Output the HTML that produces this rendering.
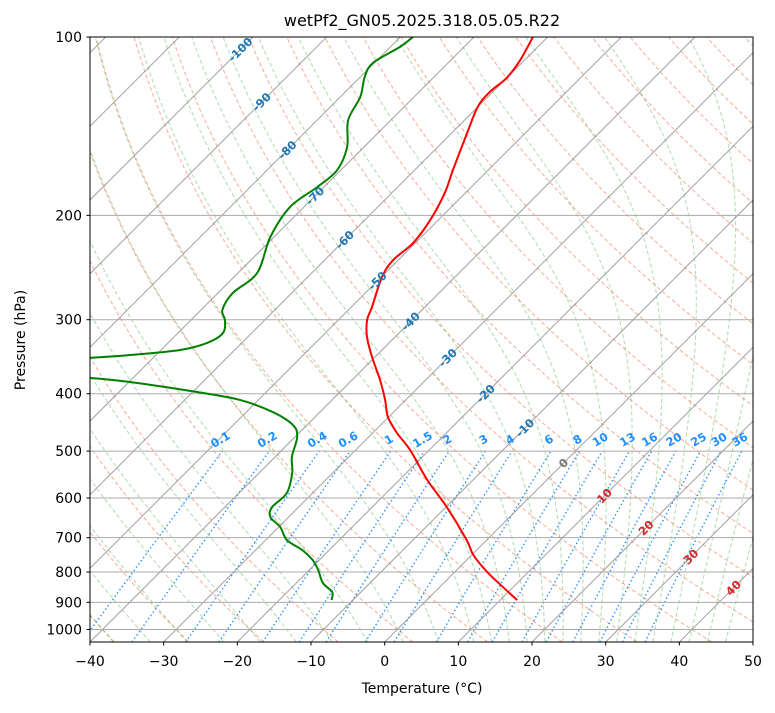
<!DOCTYPE html>
<html><head><meta charset="utf-8"><style>
html,body{margin:0;padding:0;background:#fff;}
svg text{font-family:"DejaVu Sans","Liberation Sans",sans-serif;}
</style></head><body>
<svg id="chart" width="775" height="708" viewBox="0 0 775 708" xmlns="http://www.w3.org/2000/svg">
<defs><clipPath id="plotclip"><rect x="90" y="37" width="663" height="605"/></clipPath></defs>
<rect x="0" y="0" width="775" height="708" fill="#fff"/>
<text x="422" y="26" text-anchor="middle" font-size="16" fill="#000">wetPf2_GN05.2025.318.05.05.R22</text>
<g id="plot" clip-path="url(#plotclip)"></g>
<g id="labels"></g>
<rect x="90" y="37" width="663" height="605" fill="none" stroke="#000" stroke-width="1"/>
<g id="axes"></g>
<text x="422" y="693" text-anchor="middle" font-size="14" fill="#000">Temperature (°C)</text>
<text x="25" y="340" text-anchor="middle" font-size="14" fill="#000" transform="rotate(-90 25 340)">Pressure (hPa)</text>
</svg>
<script>
// ---- data ----
const tempP = [100.0,109.3,117.3,123.8,131.2,145.2,167.7,183.3,203.6,222.6,237.9,254.2,285.5,300.3,320.9,346.8,379.2,409.8,437.9,466.0,497.9,559.4,621.3,706.6,748.4,799.7,848.1,892.1];
const tempT = [-62.0,-60.6,-60.0,-60.4,-60.0,-57.9,-54.8,-52.8,-51.1,-50.3,-50.7,-49.9,-47.2,-46.1,-43.8,-40.4,-36.2,-32.8,-30.1,-26.7,-22.6,-16.2,-9.9,-2.7,0.2,4.4,8.6,12.3];
const dewP = [100.0,103.9,110.6,116.8,126.2,138.1,153.3,167.7,179.1,193.6,217.5,250.2,270.5,288.9,300.3,315.9,328.4,337.5,344.2,348.1,353.5,362.0,371.9,376.3,382.2,397.4,409.8,429.6,451.8,473.4,511.7,544.3,588.6,621.3,645.8,671.4,706.6,734.3,763.6,793.7,834.7,864.9,892.1];
const dewT = [-78.3,-78.7,-80.2,-79.4,-77.3,-75.8,-72.3,-70.5,-70.9,-71.9,-70.5,-67.4,-68.0,-67.1,-65.4,-63.9,-64.7,-67.4,-73.5,-78.6,-84.8,-95.0,-83.0,-75.8,-69.9,-59.4,-52.5,-46.4,-41.9,-39.7,-37.7,-35.5,-33.5,-33.6,-32.5,-29.8,-27.1,-23.7,-20.9,-18.8,-16.4,-13.9,-12.9];
const pressureTicks = [100,200,300,400,500,600,700,800,900,1000];
const tempTicks = [-40,-30,-20,-10,0,10,20,30,40,50];
const mixingRatios = [0.1,0.2,0.4,0.6,1,1.5,2,3,4,6,8,10,13,16,20,25,30,36];
const mixingLabels = ["0.1","0.2","0.4","0.6","1","1.5","2","3","4","6","8","10","13","16","20","25","30","36"];
const isoLabelT = [-100,-90,-80,-70,-60,-50,-40,-30,-20,-10,0,10,20,30,40];
const isoLabelP = [105,128.7,155.1,185.5,220,258,302,348,400,457,524,595,674,754,851];

// ---- axis functions ----
const NS="http://www.w3.org/2000/svg";
function py(p){return 642-592.4*Math.log10(1050/p);}
function tx(T,p){return 90+(T+40)*7.3667+(642-py(p));}
function mk(tag,attrs,parent){const e=document.createElementNS(NS,tag);for(const k in attrs)e.setAttribute(k,attrs[k]);parent.appendChild(e);return e;}
function pathFrom(Ts,Ps){let d="";for(let i=0;i<Ts.length;i++){d+=(i?"L":"M")+tx(Ts[i],Ps[i]).toFixed(2)+","+py(Ps[i]).toFixed(2);}return d;}
function smoothFrom(Ts,Ps){
  const pts=Ts.map((t,i)=>[tx(t,Ps[i]),py(Ps[i])]);
  let d="M"+pts[0][0].toFixed(2)+","+pts[0][1].toFixed(2);
  for(let i=0;i<pts.length-1;i++){
    const p0=pts[Math.max(i-1,0)],p1=pts[i],p2=pts[i+1],p3=pts[Math.min(i+2,pts.length-1)];
    const c1=[p1[0]+(p2[0]-p0[0])/6,p1[1]+(p2[1]-p0[1])/6],c2=[p2[0]-(p3[0]-p1[0])/6,p2[1]-(p3[1]-p1[1])/6];
    d+="C"+c1[0].toFixed(2)+","+c1[1].toFixed(2)+" "+c2[0].toFixed(2)+","+c2[1].toFixed(2)+" "+p2[0].toFixed(2)+","+p2[1].toFixed(2);
  }
  return d;
}
const plot=document.getElementById("plot"),labels=document.getElementById("labels"),axes=document.getElementById("axes");
const pgrid=[];for(let p=1050;p>=100;p-=5)pgrid.push(p);

// dry adiabats
for(let t0=-40;t0<200;t0+=10){
  const Ts=pgrid.map(p=>(t0+273.15)*Math.pow(p/1000,0.2857)-273.15);
  const e=mk("path",{d:pathFrom(Ts,pgrid),fill:"none",stroke:"#f4805f","stroke-opacity":"0.6","stroke-width":"1.1","stroke-dasharray":"4,2.5"},plot);
  
  
}
// moist adiabats
function es(T){return 6.112*Math.exp(17.67*T/(T+243.5));}
function dTdp(p,TC){const T=TC+273.15;const e=es(TC);const rs=0.622*e/Math.max(p-e,1e-3);return (287.04*T+2.501e6*rs)/(p*(1005.7+2.501e6*2.501e6*rs*0.622/(287.04*T*T)));}
function moist(t0){
  const res={};let T=t0;res[1000]=T;
  for(let p=1000;p>100;p-=5){const h=-5;const k1=dTdp(p,T),k2=dTdp(p+h/2,T+h/2*k1),k3=dTdp(p+h/2,T+h/2*k2),k4=dTdp(p+h,T+h*k3);T+=h/6*(k1+2*k2+2*k3+k4);res[p-5]=T;}
  T=t0;for(let p=1000;p<1050;p+=5){const h=5;const k1=dTdp(p,T),k2=dTdp(p+h/2,T+h/2*k1),k3=dTdp(p+h/2,T+h/2*k2),k4=dTdp(p+h,T+h*k3);T+=h/6*(k1+2*k2+2*k3+k4);res[p+5]=T;}
  return pgrid.map(p=>res[p]);
}
const moistT0=[];for(let t=-50;t<=10.01;t+=5)moistT0.push(t);for(let t=12.5;t<=45.01;t+=2.5)moistT0.push(t);
moistT0.forEach(t0=>{
  const e=mk("path",{d:pathFrom(moist(t0),pgrid),fill:"none",stroke:"#2ca02c","stroke-opacity":"0.35","stroke-width":"1.1","stroke-dasharray":"4,2.5"},plot);
  
  
});
// mixing ratio lines
function tdFromW(w,p){const wk=w/1000;const e=p*wk/(0.622+wk);const l=Math.log(e/6.112);return 243.5*l/(17.67-l);}
const mp=[];for(let p=1050;p>=500;p-=10)mp.push(p);
mixingRatios.forEach((w,i)=>{
  const Ts=mp.map(p=>tdFromW(w,p));
  const e=mk("path",{d:pathFrom(Ts,mp),fill:"none",stroke:"#1e90ff","stroke-width":"1.4","stroke-dasharray":"1.4,2.6"},plot);
  
  
  const x=tx(tdFromW(w,500),500),y=443;
  const t=mk("text",{x:x,y:y,"text-anchor":"middle","font-size":"11.5","font-weight":"bold",fill:"#1e90ff",transform:"rotate(-30 "+x+" "+y+")"},labels);
  t.textContent=mixingLabels[i];
  
  
});
// isotherms
for(let T=-170;T<=50;T+=10){
  const e=mk("line",{x1:tx(T,1050),y1:py(1050),x2:tx(T,100),y2:py(100),stroke:"#888","stroke-opacity":"0.8","stroke-width":"1"},plot);
  
  
}
// isobars
pressureTicks.forEach(p=>{
  const e=mk("line",{x1:90,y1:py(p),x2:753,y2:py(p),stroke:"#aaa","stroke-width":"1"},plot);
  
  
});
// isotherm labels
isoLabelT.forEach((T,i)=>{
  const p=isoLabelP[i];const x=tx(T,p),y=py(p)+4;
  const col=T<0?"#1f77b4":(T===0?"#777":"#d62728");
  const t=mk("text",{x:x,y:y,"text-anchor":"middle","font-size":"11.5","font-weight":"bold",fill:col,transform:"rotate(-45 "+x+" "+(y-4)+")"},labels);
  t.textContent=String(T);
  
  
});
// profiles
const tl=mk("path",{d:smoothFrom(tempT,tempP),fill:"none",stroke:"#ff0000","stroke-width":"2","stroke-linejoin":"round"},plot);


const dl=mk("path",{d:smoothFrom(dewT,dewP),fill:"none",stroke:"#008000","stroke-width":"2","stroke-linejoin":"round"},plot);


// axes ticks
pressureTicks.forEach(p=>{
  const y=py(p);
  const l=mk("line",{x1:86.5,y1:y,x2:90,y2:y,stroke:"#000","stroke-width":"1"},axes);
  
  
  const t=mk("text",{x:82,y:y+5,"text-anchor":"end","font-size":"14",fill:"#000"},axes);
  t.textContent=String(p);
  
  
});
tempTicks.forEach(T=>{
  const x=90+(T+40)*7.3667;
  const l=mk("line",{x1:x,y1:642,x2:x,y2:645.5,stroke:"#000","stroke-width":"1"},axes);
  
  
  const t=mk("text",{x:x,y:666,"text-anchor":"middle","font-size":"14",fill:"#000"},axes);
  t.textContent=(T<0?"\u2212"+Math.abs(T):String(T));
  
  
});
</script>
</body></html>
